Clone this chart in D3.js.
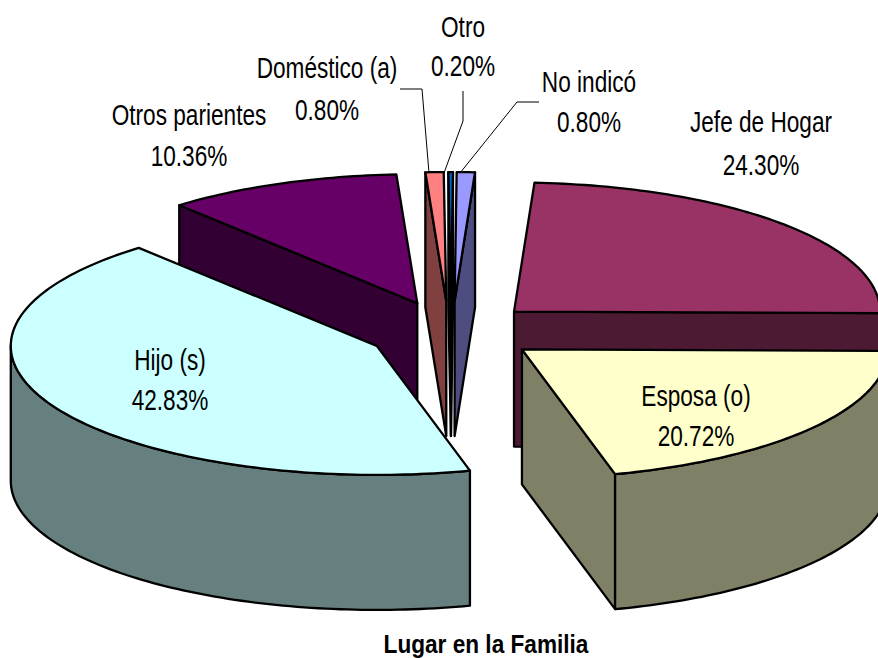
<!DOCTYPE html>
<html><head><meta charset="utf-8">
<script src="https://cdn.jsdelivr.net/npm/d3@7/dist/d3.min.js"></script>
<style>html,body{margin:0;padding:0;background:#fff;overflow:hidden}svg{display:block}</style>
</head><body><svg id="c" width="878" height="658"></svg>
<script>
const categories = ["Jefe de Hogar","Esposa (o)","Hijo (s)","Otros parientes","Doméstico (a)","Otro","No indicó"];
const values = [24.30,20.72,42.83,10.36,0.80,0.20,0.80];
const valueLabels = ["24.30%","20.72%","42.83%","10.36%","0.80%","0.20%","0.80%"];
const topColors = ["#993366","#FFFFCC","#CCFFFF","#660066","#FF8080","#0066CC","#9999FF"];
const sideColors = ["#4D1A33","#808066","#668080","#330033","#804040","#003366","#4D4D80"];
const title = "Lugar en la Familia";

const cx=452, cy=332, rx=366, ry=129, depth=135, explode=0.232, startDeg=3.2;
const nudge = [[0,0],[3,-1],[0,0],[-3,-1],[-3,-1],[-1,-1],[0,-1]];
const labelPos = [[761,132,175],[696,406,446],[170,370,410],[189,125,166],[327,78,120],[463,37,76],[589,92,132]];
const leaders = [null,null,null,null,
  [[400,89],[422,89],[429,173]],
  [[463,91],[463,121],[444,173]],
  [[539,102],[517,102],[460,173]]];

const svg = d3.select("#c");
const start = startDeg*Math.PI/180;
const pie = d3.pie().sort(null).value(d=>d).startAngle(start).endAngle(start+2*Math.PI);
const arcs = pie(values).map((a,i)=>({...a,i}));
const line = d3.line();
const pt = (o,t,dz=0)=>[o[0]+rx*Math.sin(t), o[1]-ry*Math.cos(t)+dz];
const samples = (a,b)=>{const n=Math.max(2,Math.ceil(Math.abs(b-a)/0.02));return d3.range(n+1).map(k=>a+(b-a)*k/n);};

arcs.forEach(a=>{
  const m=(a.startAngle+a.endAngle)/2;
  a.o=[cx+explode*rx*Math.sin(m)+nudge[a.i][0], cy-explode*ry*Math.cos(m)+nudge[a.i][1]];
});
const order = arcs.slice().sort((p,q)=>p.o[1]-q.o[1]);
const sw=2.3;
order.forEach(a=>{
  const g=svg.append("g");
  const face=(pts,fill)=>g.append("path").attr("d",line(pts)+"Z").attr("fill",fill)
    .attr("stroke","#000").attr("stroke-width",sw).attr("stroke-linejoin","round");
  const side=sideColors[a.i];
  const cut=t=>{const r=pt(a.o,t);face([a.o,r,[r[0],r[1]+depth],[a.o[0],a.o[1]+depth]],side);};
  if(Math.sin(a.startAngle)<0) cut(a.startAngle);
  if(Math.sin(a.endAngle)>0) cut(a.endAngle);
  const w0=Math.max(a.startAngle,Math.PI/2), w1=Math.min(a.endAngle,3*Math.PI/2);
  if(w1>w0){
    const ts=samples(w0,w1);
    face([...ts.map(t=>pt(a.o,t)),...ts.slice().reverse().map(t=>pt(a.o,t,depth))],side);
  }
  face([a.o,...samples(a.startAngle,a.endAngle).map(t=>pt(a.o,t))],topColors[a.i]);
});

leaders.forEach(l=>{ if(l) svg.append("path").attr("d",line(l)).attr("fill","none").attr("stroke","#000").attr("stroke-width",1);});

const txt=(x,y,s,size,sx,bold)=>svg.append("text")
  .attr("transform",`translate(${x},${y}) scale(${sx},1)`)
  .attr("text-anchor","middle").attr("font-family","'Liberation Sans',Arial,sans-serif")
  .attr("font-size",size).attr("font-weight",bold?"bold":"normal").attr("fill","#000").text(s);
categories.forEach((c,i)=>{
  const p=labelPos[i];
  txt(p[0],p[1],c,29,0.78);
  txt(p[0],p[2],valueLabels[i],29,0.78);
});
txt(486,652.5,title,25,0.905,true);
</script></body></html>
